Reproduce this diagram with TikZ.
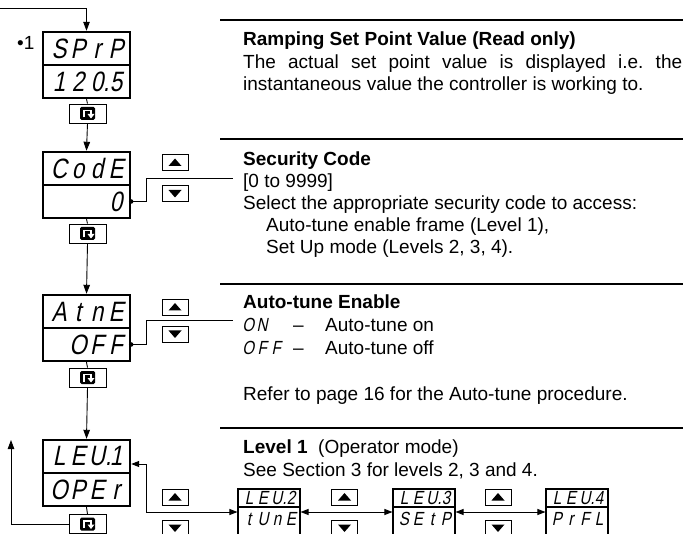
\documentclass[tikz,border=0pt]{standalone}
\usepackage{fontspec}
\setmainfont{Liberation Sans}
\newfontfamily\segfont[FakeStretch=0.8,FakeSlant=0.2]{Liberation Sans}
\usetikzlibrary{arrows.meta}
\newcommand\sgb[1]{\makebox[19pt][c]{#1}}
\newcommand\sgs[1]{\makebox[14pt][c]{#1}}
\newcommand\segB{\segfont\fontsize{28}{28}\selectfont}
\newcommand\segS{\segfont\fontsize{19}{19}\selectfont}
\newcommand\txt{\fontsize{19}{23}\selectfont\frenchspacing}
\newcommand\scricon[1]{%
  \fill[rounded corners=1.5pt] ([shift={(-7.5,-6.5)}]#1.center) rectangle ([shift={(7.5,6.5)}]#1.center);
  \draw[white,line width=1.8pt] ([shift={(-3.5,4)}]#1.center) -- ([shift={(-3.5,-3)}]#1.center) -- ([shift={(3.5,-3)}]#1.center) -- ([shift={(3.5,0.5)}]#1.center);
  \fill[white] ([shift={(0,0.5)}]#1.center) -- ([shift={(7,0.5)}]#1.center) -- ([shift={(3.5,5)}]#1.center) -- cycle;}
\newcommand\upkey[3]{%
  \node[keybtn] (#1) at (#2,#3) {};
  \fill ([shift={(-6.5,3.5)}]#1.center) -- ([shift={(6.5,3.5)}]#1.center) -- ([shift={(0,-4)}]#1.center) -- cycle;}
\newcommand\downkey[3]{%
  \node[keybtn] (#1) at (#2,#3) {};
  \fill ([shift={(-6.5,-3.5)}]#1.center) -- ([shift={(6.5,-3.5)}]#1.center) -- ([shift={(0,4)}]#1.center) -- cycle;}
\begin{document}
\begin{tikzpicture}[x=1pt,y=-1pt,
  disp/.style={draw,line width=2.4pt,minimum width=87pt,minimum height=33pt,inner xsep=3.5pt,inner ysep=0pt,text width=78pt,align=right,font=\segB},
  sdisp/.style={draw,line width=1.1pt,minimum width=62pt,inner xsep=1pt,inner ysep=0pt,text width=58pt,align=right,font=\segS},
  keybtn/.style={draw,line width=0.9pt,minimum width=26pt,minimum height=16pt,inner sep=0pt},
  scrbtn/.style={draw,line width=0.9pt,minimum width=37pt,minimum height=19pt,inner sep=0pt},
  conn/.style={line width=0.9pt},
  arr/.style={conn,-{Triangle[length=9pt,width=6.5pt]}},
  biarr/.style={conn,{Triangle[length=8pt,width=6pt]}-{Triangle[length=8pt,width=6pt]}},
  sepline/.style={line width=1.2pt},
  body/.style={font=\txt,anchor=base west,inner sep=0pt},
  segtxt/.style={font=\segS,anchor=base west,inner sep=0pt},
  dot/.style={circle,fill,inner sep=0pt,minimum size=4.5pt}
]
\useasboundingbox (0,0) rectangle (685,534);
\clip (0,0) rectangle (685,534);

% ---------- displays ----------
\node[font=\txt,anchor=west,inner sep=0pt] (mark) at (17,43) {•1};
\node[disp] (s1t) at (86.5,48.5) {\sgb{S}\sgb{P}\sgb{r}\sgb{P}};
\node[disp] (s1b) at (86.5,81.5) {\sgb{1}\sgb{2}\sgb{0\rlap{.}}\sgb{5}};
\node[scrbtn] (b1) at (87.5,113.5) {};
\scricon{b1}

\node[disp] (c1t) at (86.5,168.5) {\sgb{C}\sgb{o}\sgb{d}\sgb{E}};
\node[disp] (c1b) at (86.5,201.5) {\sgb{0}};
\node[scrbtn] (b2) at (87.5,233.5) {};
\scricon{b2}
\upkey{cu}{175}{162.5}
\downkey{cd}{175}{193.5}

\node[disp] (a1t) at (86.5,311.5) {\sgb{A}\sgb{t}\sgb{n}\sgb{E}};
\node[disp] (a1b) at (86.5,344.5) {\sgb{O}\sgb{F}\sgb{F}};
\node[scrbtn] (b3) at (87.5,377.5) {};
\scricon{b3}
\upkey{au}{175}{307}
\downkey{ad}{175}{334}

\node[disp] (l1t) at (86.5,456.5) {\sgb{L}\sgb{E}\sgb{U\rlap{.}}\sgb{1}};
\node[disp] (l1b) at (86.5,489.5) {\sgb{O}\sgb{P}\sgb{E}\sgb{r}};
\node[scrbtn] (b4) at (87.5,524) {};
\scricon{b4}

% bottom row
\node[sdisp,minimum height=18pt] (l2t) at (269,498) {\sgs{L}\sgs{E}\sgs{U\rlap{.}}\sgs{2}};
\node[sdisp,minimum height=36pt,text depth=12pt] (l2b) at (269,525) {\sgs{t}\sgs{U}\sgs{n}\sgs{E}};
\node[sdisp,minimum height=18pt] (l3t) at (424,498) {\sgs{L}\sgs{E}\sgs{U\rlap{.}}\sgs{3}};
\node[sdisp,minimum height=36pt,text depth=12pt] (l3b) at (424,525) {\sgs{S}\sgs{E}\sgs{t}\sgs{P}};
\node[sdisp,minimum height=18pt] (l4t) at (577,498) {\sgs{L}\sgs{E}\sgs{U\rlap{.}}\sgs{4}};
\node[sdisp,minimum height=36pt,text depth=12pt] (l4b) at (577,525) {\sgs{P}\sgs{r}\sgs{F}\sgs{L}};
\upkey{ru1}{175}{497}
\downkey{rd1}{175}{528}
\upkey{ru2}{344.5}{497}
\downkey{rd2}{344.5}{528}
\upkey{ru3}{498}{497}
\downkey{rd3}{498}{528}

% ---------- connectors ----------
\coordinate (in0) at (0,8);
\draw[arr] (in0) -- (in0 -| s1t.north) -- (s1t.north);
\draw[conn] (s1b.south) -- (b1.north);
\draw[arr] (b1.south) -- (c1t.north);
\draw[conn] (c1b.south) -- (b2.north);
\draw[arr] (b2.south) -- (a1t.north);
\draw[conn] (a1b.south) -- (b3.north);
\draw[arr] (b3.south) -- (l1t.north);
\draw[conn] (l1b.south) -- (b4.north);

\node[dot] (d2) at (c1b.east) {};
\coordinate (c2k) at (146,178);
\coordinate (c2e) at (233,178);
\draw[conn] (d2.center) -- (d2.center -| c2k) -- (c2k) -- (c2e);

\node[dot] (d3) at (a1b.east) {};
\coordinate (a2k) at (146,320);
\coordinate (a2e) at (233,320);
\draw[conn] (d3.center) -- (d3.center -| a2k) -- (a2k) -- (a2e);

\coordinate (j1) at (146,464);
\coordinate (rowy) at (146,512);
\draw[biarr] (l1t.east |- j1) -- (j1) -- (rowy) -- (l2b.west |- rowy);
\draw[biarr] (l2b.east |- rowy) -- (l3b.west |- rowy);
\draw[biarr] (l3b.east |- rowy) -- (l4b.west |- rowy);

\coordinate (lb1) at (11,524);
\coordinate (lb2) at (11,440);
\draw[arr] (b4.west) -- (lb1) -- (lb2);

% ---------- descriptions ----------
\draw[sepline] (220,20) -- (683,20);
\node[body] (t1a) at (243,46) {\bfseries Ramping Set Point Value (Read only)};
\node[body] (t1b) at (243,68.5) {\makebox[439pt][s]{The actual set point value is displayed i.e. the}};
\node[body] (t1c) at (243,91) {instantaneous value the controller is working to.};

\draw[sepline] (220,139) -- (683,139);
\node[body] (t2a) at (243,166) {\bfseries Security Code};
\node[body] (t2b) at (243,188) {[0 to 9999]};
\node[body] (t2c) at (243,210) {Select the appropriate security code to access:};
\node[body] (t2d) at (266,232) {Auto-tune enable frame (Level 1),};
\node[body] (t2e) at (266,254) {Set Up mode (Levels 2, 3, 4).};

\draw[sepline] (220,284) -- (683,284);
\node[body] (t3a) at (243,309) {\bfseries Auto-tune Enable};
\node[segtxt] (t3b) at (241,332) {\sgs{O}\sgs{N}};
\node[body] (t3c) at (293,332) {–};
\node[body] (t3d) at (325,332) {Auto-tune on};
\node[segtxt] (t3e) at (241,355) {\sgs{O}\sgs{F}\sgs{F}};
\node[body] (t3f) at (293,355) {–};
\node[body] (t3g) at (325,355) {Auto-tune off};
\node[body] (t3h) at (243,400) {Refer to page 16 for the Auto-tune procedure.};

\draw[sepline] (220,428) -- (683,428);
\node[body] (t4a) at (243,453) {\textbf{Level 1}\ \ (Operator mode)};
\node[body] (t4b) at (243,476) {See Section 3 for levels 2, 3 and 4.};
\end{tikzpicture}
\end{document}
